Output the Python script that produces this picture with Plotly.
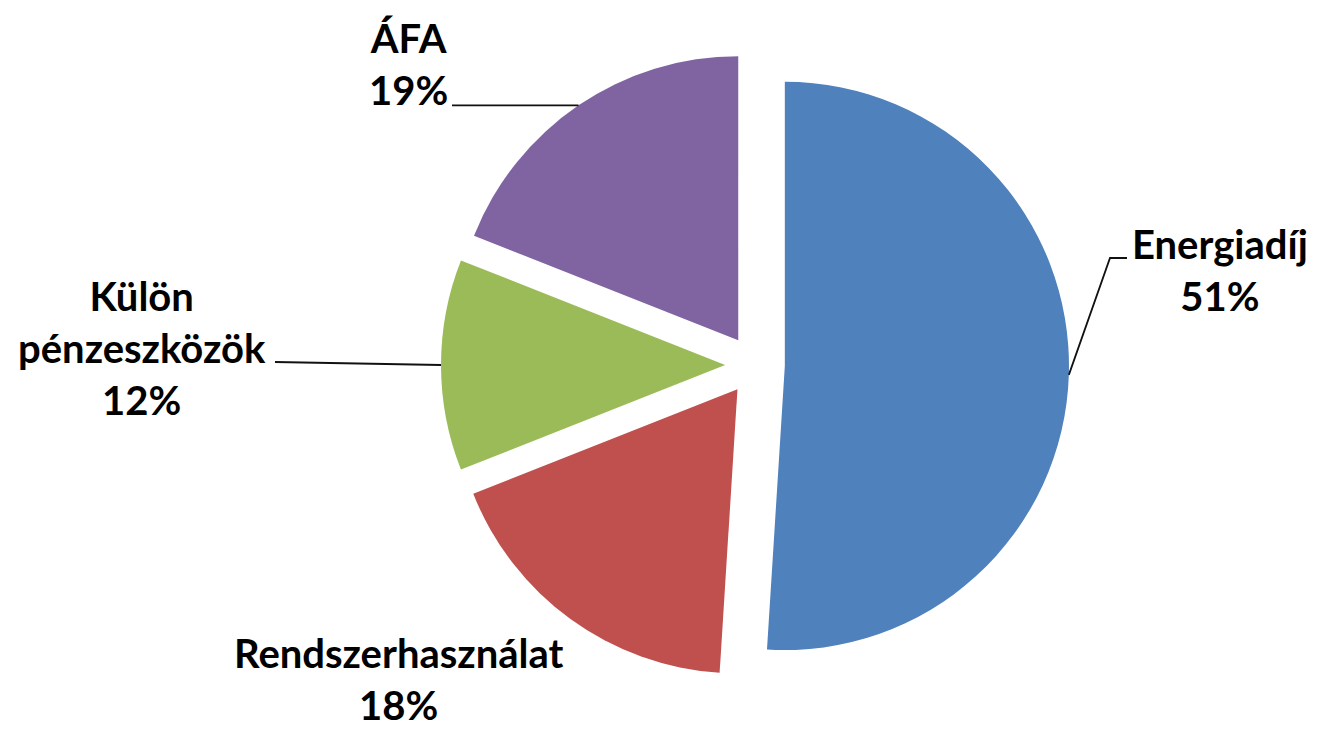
import math
import plotly.graph_objects as go

# ---- data ----
labels = ["Energiadíj", "Rendszerhasználat", "Külön pénzeszközök", "ÁFA"]
label_text = ["Energiadíj<br>51%", "Rendszerhasználat<br>18%", "Külön<br>pénzeszközök<br>12%", "ÁFA<br>19%"]
values = [51, 18, 12, 19]
colors = ["#4F81BD", "#C0504D", "#9BBB59", "#8064A2"]

# ---- layout geometry (pixels, in page coordinates; page body has 8px margin) ----
OFF = 8
W, H = 1319, 729
M_T, M_B, M_L, M_R = 51 - OFF, H - (679 - OFF), 0, 0
PW, PH = W - M_L - M_R, H - M_T - M_B
CX, CY = 755 - OFF, 365 - OFF   # pie centre in figure px
PULL = 0.105
R = PH / (2 * (1 + PULL))

def px2paper(x, y, off=True):
    if off:
        x, y = x - OFF, y - OFF
    return (x - M_L) / PW, 1 - (y - M_T) / PH

dom_half = (PH / 2) / PW
dom_c = (CX - M_L) / PW

fig = go.Figure(go.Pie(
    labels=labels, values=values, sort=False, direction="clockwise", rotation=0,
    marker=dict(colors=colors, line=dict(width=0)),
    pull=[PULL] * len(values), textinfo="none", hoverinfo="label+percent",
    domain=dict(x=[dom_c - dom_half, dom_c + dom_half], y=[0, 1]),
    showlegend=False,
))

# arc midpoint of each slice (computed from data), in page px
total = sum(values)
arc_pts = []
cum = 0
for v in values:
    mid = (cum + v / 2) / total * 2 * math.pi
    cum += v
    rr = R * (1 + PULL)
    arc_pts.append((CX + OFF + rr * math.sin(mid), CY + OFF - rr * math.cos(mid)))

# label positions (page px): centre x, centre y
label_pos = [(1220, 270), (399, 679), (142, 348), (408, 64)]
font = dict(family="Lato", size=40, color="#000000", weight="bold")
for txt, (lx, ly) in zip(label_text, label_pos):
    ax, ay = px2paper(lx, ly)
    fig.add_annotation(x=ax, y=ay, xref="paper", yref="paper", text=txt,
                       showarrow=False, xanchor="center", yanchor="middle",
                       font=font, align="center")

# leader lines
def path(points):
    pts = [px2paper(*p) for p in points]
    return "M " + " L ".join(f"{x:.5f},{y:.5f}" for x, y in pts)

line = dict(color="#111111", width=1.8)
# Energiadíj
ex, ey = arc_pts[0]
fig.add_shape(type="path", xref="paper", yref="paper",
              path=path([(ex, ey), (1110, 258), (1127, 258)]), line=line)
# Külön pénzeszközök
gx, gy = arc_pts[2]
fig.add_shape(type="path", xref="paper", yref="paper",
              path=path([(gx, gy), (275, gy - 3)]), line=line)
# ÁFA
fx, fy = arc_pts[3]
fig.add_shape(type="path", xref="paper", yref="paper",
              path=path([(fx, fy), (452, fy)]), line=line)

fig.update_layout(width=W, height=H, margin=dict(t=M_T, b=M_B, l=M_L, r=M_R),
                  paper_bgcolor="white", plot_bgcolor="white")
fig.write_html("out.html")
